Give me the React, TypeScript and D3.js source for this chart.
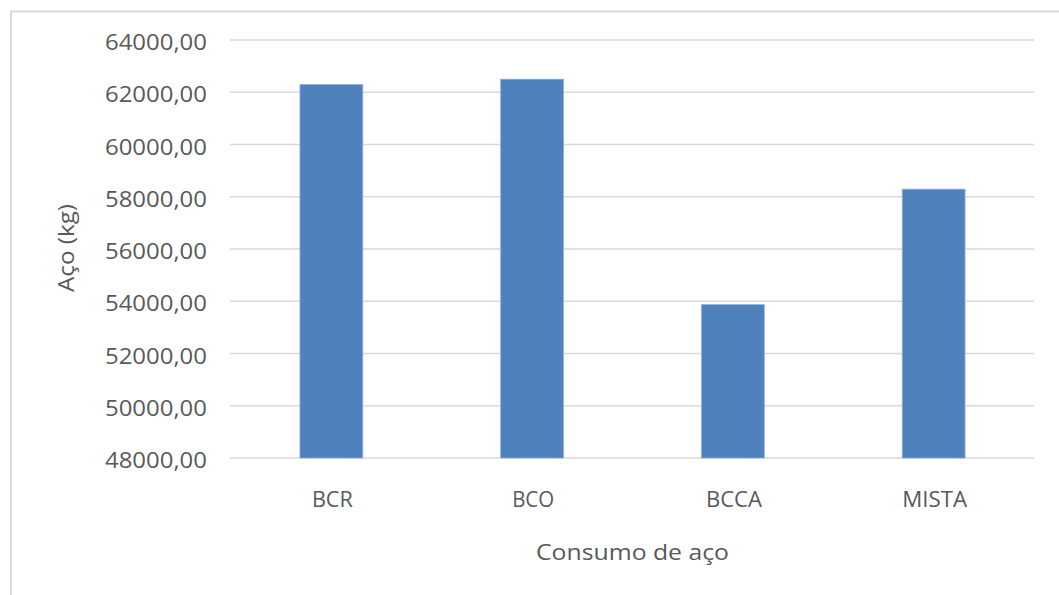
import React from "react";
import * as d3 from "d3";

// Steel consumption per structural solution (kg)
const categories = ["BCR", "BCO", "BCCA", "MISTA"];
const steelKg = [62300, 62500, 53870, 58290];
const yTicks = [48000, 50000, 52000, 54000, 56000, 58000, 60000, 62000, 64000];
const categoryLabelWidths = [41, 42, 56, 65];

const W = 1059;
const H = 595;
const plot = { left: 231, right: 1034, top: 40, bottom: 458 };
const textColor = "#595959";
const gridColor = "#D9D9D9";
const barColor = "#4F81BD";
const font = "'Open Sans', 'Noto Sans', sans-serif";

const fmt = (v: number) => v.toFixed(2).replace(".", ",");

export default function App() {
  const x = d3
    .scaleBand<string>()
    .domain(categories)
    .range([plot.left, plot.right])
    .paddingInner(0.687)
    .paddingOuter(0.3435);
  const y = d3.scaleLinear().domain([48000, 64000]).range([plot.bottom, plot.top]);

  return (
    <svg
      width={W}
      height={H}
      viewBox={`0 0 ${W} ${H}`}
      style={{ position: "fixed", left: 0, top: 0, background: "#fff" }}
    >
      <rect x={0} y={0} width={W} height={H} fill="#fff" />
      {/* chart area frame */}
      <rect x={11} y={11.5} width={W + 20} height={H + 20} fill="none" stroke={gridColor} strokeWidth={2} />

      {/* gridlines and tick labels */}
      {yTicks.map((t) => (
        <g key={t}>
          <line
            x1={plot.left - 1}
            x2={plot.right}
            y1={y(t)}
            y2={y(t)}
            stroke={gridColor}
            strokeWidth={1.3}
          />
          <text
            x={207}
            y={y(t) + 10}
            textAnchor="end"
            fontFamily={font}
            fontSize={21.5}
            fill={textColor}
            textLength={102}
            lengthAdjust="spacingAndGlyphs"
          >
            {fmt(t)}
          </text>
        </g>
      ))}

      {/* bars */}
      {categories.map((c, i) => (
        <rect
          key={c}
          x={x(c)!}
          y={y(steelKg[i])}
          width={x.bandwidth()}
          height={y(48000) - y(steelKg[i])}
          fill={barColor}
          stroke="#8FAEDA"
          strokeWidth={0.8}
        />
      ))}

      {/* category labels */}
      {categories.map((c, i) => (
        <text
          key={c}
          x={x(c)! + x.bandwidth() / 2 + 1}
          y={507}
          textAnchor="middle"
          fontFamily={font}
          fontSize={22}
          fill={textColor}
          textLength={categoryLabelWidths[i]}
          lengthAdjust="spacingAndGlyphs"
        >
          {c}
        </text>
      ))}

      {/* axis titles */}
      <text
        x={(plot.left + plot.right) / 2}
        y={560}
        textAnchor="middle"
        fontFamily={font}
        fontSize={22}
        fill={textColor}
        textLength={193}
        lengthAdjust="spacingAndGlyphs"
      >
        Consumo de aço
      </text>
      <text
        transform={`translate(74, 248) rotate(-90)`}
        textAnchor="middle"
        fontFamily={font}
        fontSize={21.5}
        fill={textColor}
        textLength={88}
        lengthAdjust="spacingAndGlyphs"
      >
        Aço (kg)
      </text>
    </svg>
  );
}
